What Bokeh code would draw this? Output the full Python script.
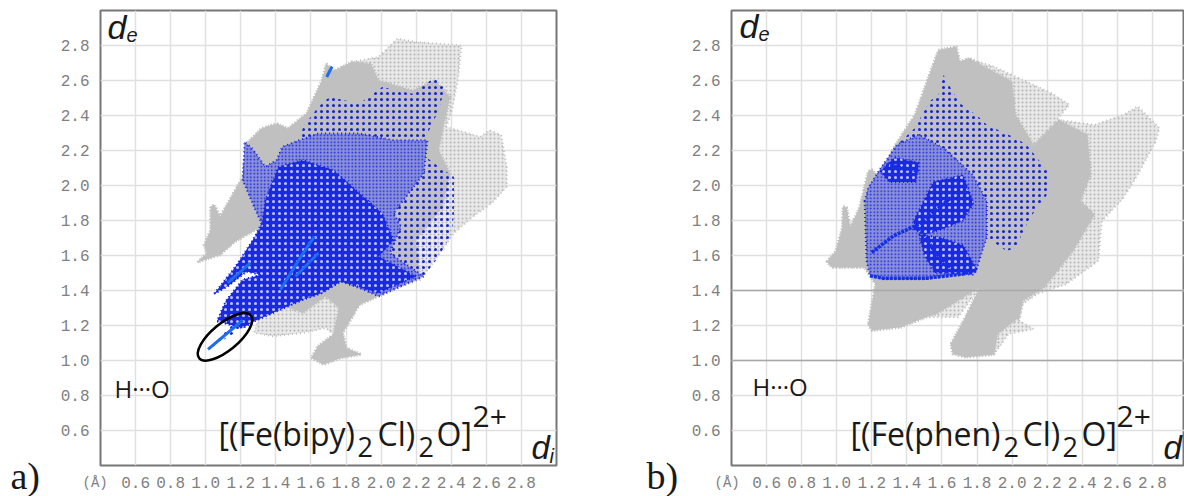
from bokeh.plotting import figure
from bokeh.layouts import row
from bokeh.models import Range1d, FixedTicker, Label, Span, PrintfTickFormatter
from bokeh.embed import file_html
from bokeh.resources import INLINE

TICKS = [0.6, 0.8, 1.0, 1.2, 1.4, 1.6, 1.8, 2.0, 2.2, 2.4, 2.6, 2.8]

# ---- panel a: regions (d_i, d_e)
a_gray_outer_x = [0.953,1.006,0.991,1.028,1.028,1.049,1.082,1.125,1.211,1.232,1.318,1.404,1.469,1.576,1.662,1.688,1.727,1.834,1.985,2.092,2.2,2.458,2.437,2.404,2.372,2.565,2.619,2.684,2.716,2.716,2.63,2.523,2.415,2.308,2.222,2.114,1.985,1.877,1.781,1.802,1.888,1.77,1.673,1.602,1.64,1.727,1.684,1.555,1.383,1.275,1.34,1.318,1.168,1.082]
a_gray_outer_y = [1.562,1.613,1.661,1.746,1.879,1.889,1.822,1.898,2.05,2.24,2.326,2.354,2.326,2.411,2.6,2.696,2.654,2.706,2.734,2.839,2.82,2.8,2.6,2.43,2.335,2.278,2.316,2.288,2.107,1.993,1.898,1.822,1.727,1.575,1.46,1.424,1.367,1.319,1.158,1.072,1.034,1.015,0.977,1.015,1.082,1.148,1.186,1.158,1.139,1.158,1.348,1.765,1.68,1.604]
a_gray_solid_x = [0.953,1.006,0.991,1.028,1.028,1.049,1.082,1.125,1.211,1.232,1.318,1.404,1.469,1.576,1.662,1.688,1.727,1.834,1.942,1.985,2.178,2.308,2.394,2.351,2.329,2.394,2.351,2.2,2.222,2.114,1.985,1.877,1.781,1.802,1.888,1.77,1.673,1.602,1.64,1.727,1.759,1.684,1.555,1.34,1.318,1.168,1.082]
a_gray_solid_y = [1.562,1.613,1.661,1.746,1.879,1.889,1.822,1.898,2.05,2.24,2.326,2.354,2.326,2.411,2.6,2.696,2.654,2.706,2.696,2.601,2.544,2.601,2.506,2.316,2.202,2.069,1.879,1.689,1.481,1.424,1.367,1.319,1.158,1.072,1.034,1.015,0.977,1.015,1.082,1.148,1.3,1.367,1.272,1.348,1.765,1.68,1.604]
a_blue_outer_x = [1.049,1.125,1.232,1.318,1.275,1.211,1.222,1.265,1.34,1.404,1.437,1.533,1.555,1.641,1.705,1.877,2.006,2.178,2.308,2.361,2.329,2.265,2.254,2.329,2.415,2.415,2.404,2.329,2.243,2.114,1.985,1.899,1.77,1.662,1.555,1.426,1.275,1.211,1.013,1.168,1.065,1.114,1.211,1.318,1.232,1.125]
a_blue_outer_y = [1.382,1.481,1.613,1.784,1.879,2.031,2.25,2.212,2.107,2.145,2.221,2.259,2.335,2.449,2.506,2.468,2.563,2.525,2.62,2.554,2.43,2.297,2.164,2.107,2.05,1.841,1.727,1.594,1.481,1.443,1.367,1.405,1.452,1.386,1.348,1.291,1.224,1.186,1.063,1.224,1.224,1.338,1.462,1.49,1.509,1.424]
a_blue_mid_x = [1.049,1.125,1.232,1.318,1.275,1.211,1.222,1.265,1.34,1.404,1.437,1.533,1.641,1.877,2.071,2.265,2.243,2.071,2.114,2.049,2.243,1.985,1.899,1.77,1.662,1.555,1.426,1.275,1.211,1.065,1.114,1.211,1.318,1.232,1.125]
a_blue_mid_y = [1.382,1.481,1.613,1.784,1.879,2.031,2.25,2.212,2.107,2.145,2.221,2.259,2.297,2.297,2.259,2.259,2.069,1.841,1.765,1.613,1.481,1.367,1.405,1.452,1.386,1.348,1.291,1.224,1.186,1.224,1.338,1.462,1.49,1.509,1.424]
a_blue_dense_x = [[1.049,1.146,1.318,1.34,1.415,1.555,1.727,1.899,2.006,2.071,1.985,2.2,1.985,1.77,1.662,1.555,1.426,1.275,1.211,1.065,1.114,1.211,1.318,1.232,1.125]]
a_blue_dense_y = [[1.382,1.5,1.765,1.917,2.107,2.145,2.088,1.936,1.841,1.689,1.594,1.481,1.386,1.452,1.386,1.348,1.291,1.224,1.186,1.224,1.338,1.462,1.49,1.509,1.424]]
a_streaks_x = [[1.013,1.211],[1.125,1.254],[1.426,1.555,1.62],[1.512,1.642],[1.69,1.72]]
a_streaks_y = [[1.063,1.23],[1.443,1.556],[1.405,1.613,1.708],[1.48,1.613],[2.62,2.68]]
a_ellipse = (1.11, 1.135, 0.382, 0.154, 0.69)

# ---- panel b
b_gray_outer_x = [0.944,0.995,1.032,1.036,1.057,1.077,1.129,1.18,1.2,1.245,1.323,1.446,1.528,1.58,1.682,1.702,1.754,1.897,2.041,2.225,2.327,2.256,2.471,2.635,2.717,2.84,2.819,2.717,2.635,2.512,2.491,2.307,2.143,2.061,2.041,2.123,1.979,1.897,1.733,1.661,1.651,1.733,1.815,1.692,1.508,1.364,1.2,1.18,1.221,1.159,0.975]
b_gray_outer_y = [1.565,1.626,1.759,1.882,1.873,1.759,1.873,2.082,2.091,2.044,2.214,2.404,2.632,2.774,2.793,2.708,2.727,2.679,2.613,2.527,2.461,2.376,2.347,2.404,2.452,2.328,2.252,2.063,1.93,1.797,1.569,1.436,1.38,1.323,1.228,1.18,1.152,1.034,1.019,1.038,1.095,1.247,1.417,1.247,1.247,1.19,1.171,1.209,1.436,1.531,1.531]
b_gray_solid_x = [0.944,0.995,1.032,1.036,1.057,1.077,1.129,1.18,1.2,1.245,1.323,1.446,1.528,1.58,1.682,1.702,1.754,2.0,2.02,2.123,2.266,2.43,2.45,2.389,2.471,2.348,2.184,2.061,2.041,1.918,1.897,1.733,1.661,1.651,1.733,1.815,1.569,1.508,1.364,1.2,1.18,1.221,1.159,0.975]
b_gray_solid_y = [1.565,1.626,1.759,1.882,1.873,1.759,1.873,2.082,2.091,2.044,2.214,2.404,2.632,2.774,2.793,2.708,2.727,2.594,2.404,2.233,2.376,2.29,2.063,1.911,1.835,1.626,1.417,1.342,1.247,1.152,1.034,1.019,1.038,1.095,1.247,1.417,1.266,1.247,1.19,1.171,1.209,1.436,1.531,1.531]
b_blue_outer_x = [1.159,1.18,1.245,1.344,1.446,1.528,1.58,1.61,1.661,1.713,1.795,1.856,2.02,2.082,2.204,2.215,2.102,2.02,1.969,1.856,1.836,1.795,1.713,1.508,1.262,1.19,1.17]
b_blue_outer_y = [1.911,1.987,2.091,2.233,2.328,2.48,2.518,2.632,2.537,2.461,2.404,2.347,2.271,2.233,2.082,1.968,1.816,1.645,1.626,1.702,1.645,1.512,1.493,1.465,1.465,1.484,1.569]
b_blue_mid_x = [1.159,1.18,1.245,1.344,1.467,1.61,1.774,1.856,1.856,1.836,1.795,1.713,1.508,1.262,1.19,1.17]
b_blue_mid_y = [1.911,1.987,2.091,2.233,2.29,2.214,2.063,1.911,1.702,1.645,1.512,1.493,1.465,1.465,1.484,1.569]
b_blue_dense_x = [[1.44,1.55,1.72,1.78,1.72,1.60,1.50,1.44],[1.47,1.60,1.72,1.80,1.78,1.56,1.50],[1.25,1.33,1.47,1.45,1.30]]
b_blue_dense_y = [[1.80,2.02,2.06,1.90,1.80,1.75,1.72,1.75],[1.72,1.70,1.66,1.52,1.49,1.50,1.60],[2.08,2.16,2.13,2.02,2.02]]
b_streaks_x = [[1.19,1.262,1.508,1.713,1.795],[1.2,1.323,1.467,1.651],[1.467,1.569,1.651],[1.282,1.467]]
b_streaks_y = [[1.484,1.47,1.47,1.493,1.516],[1.617,1.712,1.778,1.93],[1.759,1.607,1.531],[2.119,2.082]]
b_dark_grid = [1.4, 1.0]

GRAY = "#c0c0c0"
BLUE = "#1420e0"
PX = 456 / 2.6


def make(left, right_border, xmax, top):
    p = figure(width=592, height=496, output_backend="svg", toolbar_location=None,
               x_range=Range1d(0.4, xmax), y_range=Range1d(0.4, 3.0),
               min_border_left=left, min_border_right=right_border,
               min_border_top=top, min_border_bottom=496 - top - 456,
               background_fill_color="white", border_fill_color="white",
               outline_line_color="#777777", outline_line_width=2)
    for ax in (p.xaxis[0], p.yaxis[0]):
        ax.ticker = FixedTicker(ticks=TICKS)
        ax.formatter = PrintfTickFormatter(format="%.1f")
        ax.axis_line_color = None
        ax.major_tick_line_color = None
        ax.minor_tick_line_color = None
        ax.major_label_text_font = "Liberation Mono"
        ax.major_label_text_font_size = "16px"
        ax.major_label_text_color = "#808080"
        ax.major_label_standoff = 5
    for g in (p.xgrid[0], p.ygrid[0]):
        g.grid_line_color = "#e0e0e0"
        g.grid_line_width = 1.5
    return p


def shapes(p, gox, goy, gsx, gsy, box, boy, bmx, bmy, dx, dy):
    p.patch(gox, goy, fill_color="#e2e2e2", fill_alpha=0.8, line_color=GRAY, line_width=2,
            line_dash="1 3", hatch_pattern="dot", hatch_color="#b4b4b4", hatch_scale=4)
    p.patch(gsx, gsy, fill_color=GRAY, line_color=GRAY, line_width=3, line_dash="1 2")
    p.patch(box, boy, fill_color=None, line_color=None,
            hatch_pattern="dot", hatch_color=BLUE, hatch_scale=6)
    p.patch(bmx, bmy, fill_color="#8a90d8", line_color=BLUE, line_width=2, line_dash="1 3",
            hatch_pattern="dot", hatch_color=BLUE, hatch_scale=3.5)
    p.patches(dx, dy, fill_color="#1a2ae0", line_color=BLUE, line_width=2, line_dash="1 3",
              hatch_pattern="dot", hatch_color="#c4c8e8", hatch_scale=6)


def txt(p, fl, x, y, s, size, font="Open Sans", style="normal", color="#1a1a1a", side=None):
    # fl: window x of the frame's left edge. Frame bottom is at window y 466.
    # Bokeh's label box sits lower than the alphabetic baseline by about a quarter of the size.
    yy = y - 0.27 * size
    lab = Label(x=0.4 + (x - fl) / PX, y=0.4 + (466 - yy) / PX, text=s,
                text_font=font, text_font_size=f"{size}px", text_font_style=style,
                text_color=color, text_baseline="alphabetic")
    if side:
        p.add_layout(lab, side)   # side-panel labels may sit outside the frame
    else:
        p.add_layout(lab)


F = 100
pa = make(100, 36, 3.0, 10)
shapes(pa, a_gray_outer_x, a_gray_outer_y, a_gray_solid_x, a_gray_solid_y,
       a_blue_outer_x, a_blue_outer_y, a_blue_mid_x, a_blue_mid_y,
       a_blue_dense_x, a_blue_dense_y)
pa.multi_line(a_streaks_x, a_streaks_y, line_color="#1e6cf0", line_width=3)
pa.ellipse([a_ellipse[0]], [a_ellipse[1]], width=[a_ellipse[2]], height=[a_ellipse[3]],
           angle=[a_ellipse[4]], fill_color=None, line_color="black", line_width=2.5)

txt(pa, F, 107, 36, "d", 34, "Liberation Sans", "italic")
txt(pa, F, 126, 40, "e", 20, "Liberation Sans", "italic")
txt(pa, F, 114, 395, "H···O", 24)
txt(pa, F, 218, 443, "[(Fe(bipy)", 32)
txt(pa, F, 357, 455, "2", 27)
txt(pa, F, 377, 443, "Cl)", 32)
txt(pa, F, 418, 455, "2", 27)
txt(pa, F, 436, 443, "O]", 32)
txt(pa, F, 472, 425, "2+", 30)
txt(pa, F, 531, 457, "d", 33, "Liberation Sans", "italic")
txt(pa, F, 549, 462, "i", 20, "Liberation Sans", "italic")
txt(pa, F, 10, 487, "a)", 38, "Liberation Serif", side="left")
txt(pa, F, 82, 487, "(Å)", 14, "Liberation Mono", color="#808080", side="left")

pb = make(139, 0, 2.983, 9)
for yv in b_dark_grid:
    pb.add_layout(Span(location=yv, dimension="width", line_color="#a8a8a8", line_width=1.5))
shapes(pb, b_gray_outer_x, b_gray_outer_y, b_gray_solid_x, b_gray_solid_y,
       b_blue_outer_x, b_blue_outer_y, b_blue_mid_x, b_blue_mid_y,
       b_blue_dense_x, b_blue_dense_y)
pb.multi_line(b_streaks_x, b_streaks_y, line_color="#1630e0", line_width=3.5, line_dash="3 1")

G = 731
txt(pb, G, 739, 35, "d", 34, "Liberation Sans", "italic")
txt(pb, G, 758, 39, "e", 20, "Liberation Sans", "italic")
txt(pb, G, 752, 393, "H···O", 24)
txt(pb, G, 850, 443, "[(Fe(phen)", 32)
txt(pb, G, 1003, 455, "2", 27)
txt(pb, G, 1022, 443, "Cl)", 32)
txt(pb, G, 1062, 455, "2", 27)
txt(pb, G, 1081, 443, "O]", 32)
txt(pb, G, 1116, 425, "2+", 30)
txt(pb, G, 1163, 457, "d", 33, "Liberation Sans", "italic")
txt(pb, G, 646, 487, "b)", 38, "Liberation Serif", side="left")
txt(pb, G, 714, 487, "(Å)", 14, "Liberation Mono", color="#808080", side="left")

layout = row(pa, pb, spacing=0)
open("out.html", "w").write(file_html(layout, INLINE))
